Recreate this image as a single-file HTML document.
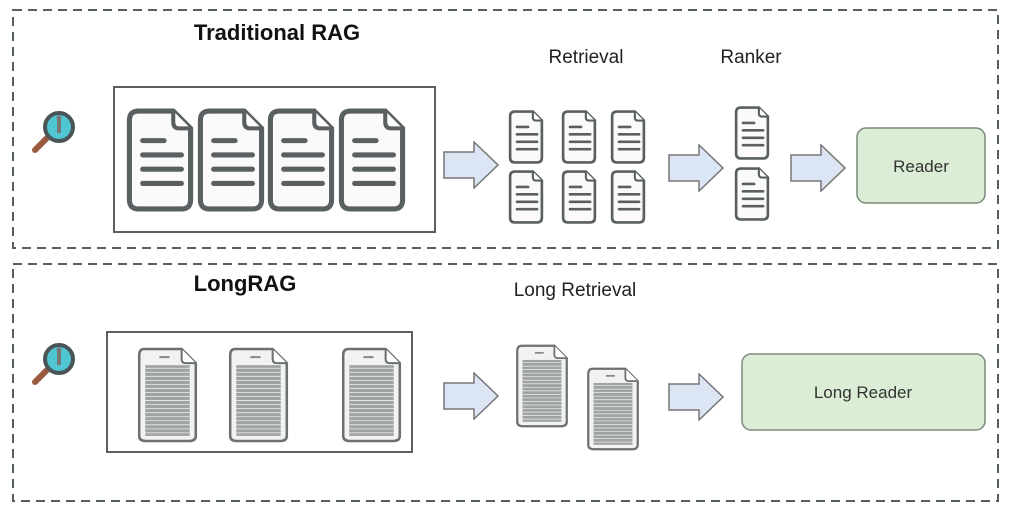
<!DOCTYPE html>
<html><head><meta charset="utf-8"><style>
html,body{margin:0;padding:0;background:#fff;}
svg{display:block;}
text{font-family:"Liberation Sans",sans-serif;}
</style></head><body>
<svg width="1024" height="514" viewBox="0 0 1024 514" xmlns="http://www.w3.org/2000/svg">
<defs>
<symbol id="doc" viewBox="0 0 66 102">
<path d="M10 3 H46 L63 20 V90 Q63 99 54 99 H12 Q3 99 3 90 V12 Q3 3 12 3 Z" fill="#fafafa" stroke="#5a6062" stroke-width="5"/>
<path d="M46 3 V14 Q46 20 52 20 H63" fill="#fff" stroke="#5a6062" stroke-width="4"/>
<g stroke="#5a6062" stroke-width="5" stroke-linecap="round">
<line x1="16" y1="32" x2="37" y2="32"/><line x1="16" y1="46" x2="54" y2="46"/><line x1="16" y1="60" x2="54" y2="60"/><line x1="16" y1="74" x2="54" y2="74"/></g>
</symbol>
<symbol id="longdoc" viewBox="0 0 60 95">
<path d="M7 2 H44 L58 16 V88 Q58 93 52 93 H8 Q2 93 2 88 V8 Q2 2 7 2 Z" fill="#f2f2f2" stroke="#6b7072" stroke-width="2.5"/>
<path d="M44 2 V12 Q44 16 48 16 H58" fill="#fff" stroke="#6b7072" stroke-width="2"/>
<line x1="22" y1="10" x2="32" y2="10" stroke="#888" stroke-width="2"/>
<rect x="8" y="18" width="44" height="70" fill="#9fa3a4"/>
<g stroke="#eee" stroke-width="0.8">
<line x1="8" y1="21" x2="52" y2="21"/><line x1="8" y1="25" x2="52" y2="25"/><line x1="8" y1="29" x2="52" y2="29"/><line x1="8" y1="33" x2="52" y2="33"/><line x1="8" y1="37" x2="52" y2="37"/><line x1="8" y1="41" x2="52" y2="41"/><line x1="8" y1="45" x2="52" y2="45"/><line x1="8" y1="49" x2="52" y2="49"/><line x1="8" y1="53" x2="52" y2="53"/><line x1="8" y1="57" x2="52" y2="57"/><line x1="8" y1="61" x2="52" y2="61"/><line x1="8" y1="65" x2="52" y2="65"/><line x1="8" y1="69" x2="52" y2="69"/><line x1="8" y1="73" x2="52" y2="73"/><line x1="8" y1="77" x2="52" y2="77"/><line x1="8" y1="81" x2="52" y2="81"/><line x1="8" y1="85" x2="52" y2="85"/></g>
</symbol>
<symbol id="arrow" viewBox="0 0 56 48">
<path d="M1 11 H31 V1 L55 24 L31 47 V37 H1 Z" fill="#dce5f4" stroke="#777" stroke-width="1.5"/>
</symbol>
<symbol id="mag" viewBox="0 0 50 50">
<line x1="6" y1="44" x2="18" y2="32" stroke="#9a5a3e" stroke-width="6" stroke-linecap="round"/>
<circle cx="30" cy="21" r="14" fill="#4fc6d2" stroke="#4a5457" stroke-width="4"/>
<rect x="28" y="13" width="4" height="14" fill="#777"/><circle cx="30" cy="12" r="2.5" fill="#777"/>
</symbol>
</defs>
<rect x="13" y="10" width="985" height="238" fill="none" stroke="#555f63" stroke-width="2" stroke-dasharray="9,6"/>
<rect x="13" y="264" width="985" height="237" fill="none" stroke="#555f63" stroke-width="2" stroke-dasharray="9,6"/>
<text x="277" y="40" font-size="22" font-weight="bold" text-anchor="middle" fill="#111">Traditional RAG</text>
<text x="245" y="291" font-size="22" font-weight="bold" text-anchor="middle" fill="#111">LongRAG</text>
<text x="586" y="63" font-size="19" text-anchor="middle" fill="#222">Retrieval</text>
<text x="751" y="63" font-size="19" text-anchor="middle" fill="#222">Ranker</text>
<text x="575" y="296" font-size="19" text-anchor="middle" fill="#222">Long Retrieval</text>
<use href="#mag" x="29" y="106" width="50" height="50"/>
<use href="#mag" x="29" y="338" width="50" height="50"/>
<rect x="114" y="87" width="321" height="145" fill="none" stroke="#5a6062" stroke-width="2"/>
<use href="#doc" x="126" y="108" width="68" height="104"/>
<use href="#doc" x="197" y="108" width="68" height="104"/>
<use href="#doc" x="267" y="108" width="68" height="104"/>
<use href="#doc" x="338" y="108" width="68" height="104"/>
<use href="#arrow" x="443" y="141" width="56" height="48"/>
<use href="#doc" x="503" y="110" width="46" height="54"/>
<use href="#doc" x="556" y="110" width="46" height="54"/>
<use href="#doc" x="605" y="110" width="46" height="54"/>
<use href="#doc" x="503" y="170" width="46" height="54"/>
<use href="#doc" x="556" y="170" width="46" height="54"/>
<use href="#doc" x="605" y="170" width="46" height="54"/>
<use href="#arrow" x="668" y="144" width="56" height="48"/>
<use href="#doc" x="729" y="106" width="46" height="54"/>
<use href="#doc" x="729" y="167" width="46" height="54"/>
<use href="#arrow" x="790" y="144" width="56" height="48"/>
<rect x="857" y="128" width="128" height="75" rx="9" fill="#dbeed5" stroke="#7a8a7a" stroke-width="1.5"/>
<text x="921" y="172" font-size="17" text-anchor="middle" fill="#333">Reader</text>
<rect x="107" y="332" width="305" height="120" fill="none" stroke="#5a6062" stroke-width="2"/>
<use href="#longdoc" x="137" y="347" width="61" height="96"/>
<use href="#longdoc" x="228" y="347" width="61" height="96"/>
<use href="#longdoc" x="341" y="347" width="61" height="96"/>
<use href="#arrow" x="443" y="372" width="56" height="48"/>
<use href="#longdoc" x="509" y="344" width="66" height="84"/>
<use href="#longdoc" x="580" y="367" width="66" height="84"/>
<use href="#arrow" x="668" y="373" width="56" height="48"/>
<rect x="742" y="354" width="243" height="76" rx="9" fill="#dbeed5" stroke="#7a8a7a" stroke-width="1.5"/>
<text x="863" y="398" font-size="17" text-anchor="middle" fill="#333">Long Reader</text>
</svg>
</body></html>
